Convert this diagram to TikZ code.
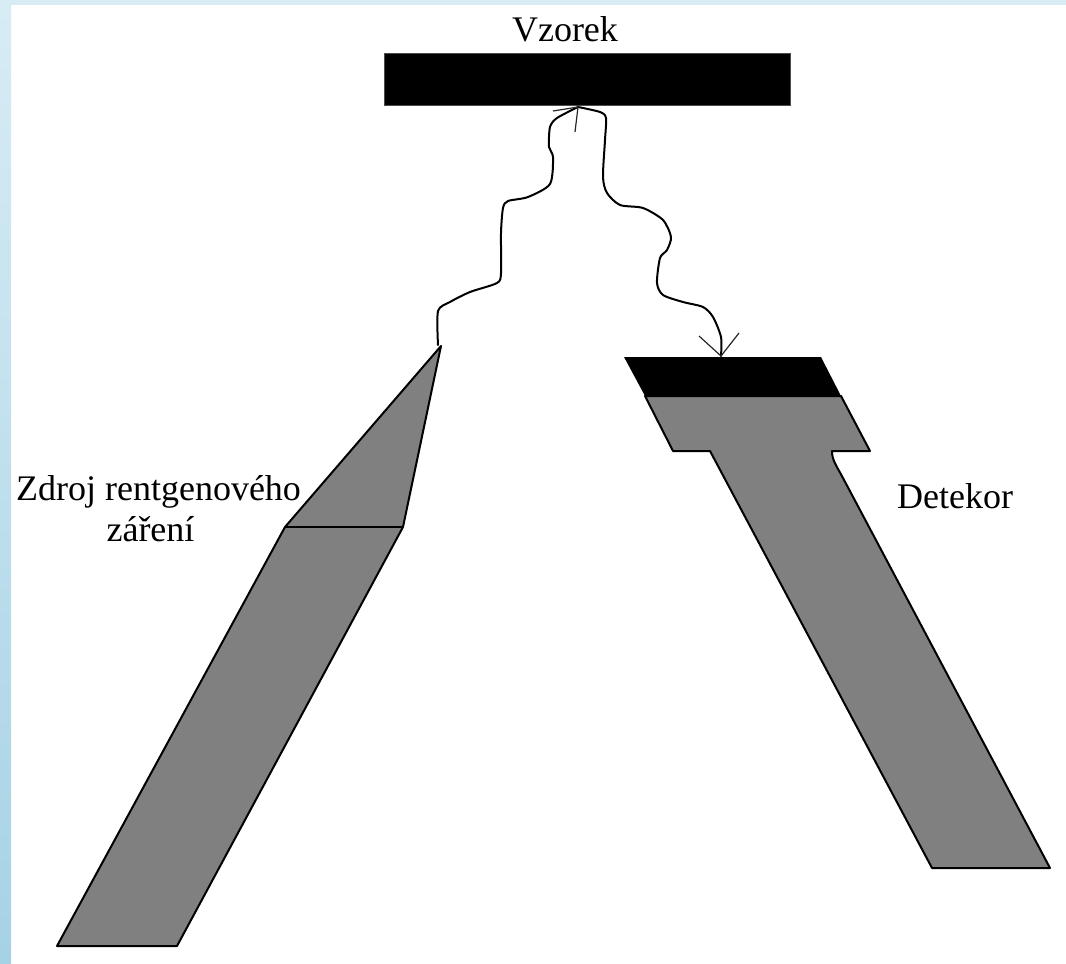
\documentclass[tikz,border=0pt]{standalone}
\usepackage{fontspec}
\setmainfont{Liberation Serif}
\definecolor{gr}{HTML}{808080}
\definecolor{stripT}{HTML}{D8ECF4}
\definecolor{stripB}{HTML}{A6D2E6}
\tikzset{
  shape line/.style={draw=black,line width=2pt,line join=round,fill=gr},
  ray/.style={draw=black,line width=2pt,line join=round,line cap=round},
  tip/.style={draw=black!85,line width=1.2pt},
  lab/.style={font=\fontsize{36}{41}\selectfont,align=center,inner sep=0pt,text=black,anchor=base}
}
\begin{document}
\begin{tikzpicture}[x=1pt,y=-1pt]
\useasboundingbox (0,0) rectangle (1066,964);
\fill[stripT] (0,0) rectangle (1066,5);
\shade[top color=stripT,bottom color=stripB] (0,0) rectangle (11,964);
% sample
\draw[fill=black,draw=black!70,line width=0.8pt] (384,53) rectangle (790,105);
% source
\draw[shape line] (441,346) -- (285,527) -- (57,946) -- (177,946) -- (403,527) -- cycle;
\draw[black,line width=1.8pt] (285,527) -- (403,527);
% detector
\draw[shape line] (645,396) -- (673,451) -- (710,451) -- (932,868) -- (1050,868) -- (843,478) .. controls (836,465) and (832,460) .. (832,451) -- (870,451) -- (841,396) -- cycle;
\fill[black] (624,357) -- (821,357) -- (841,396) -- (645,396) -- cycle;
% ray
\draw[ray] plot[smooth,tension=0.45] coordinates {(438,345) (438,311) (450,302) (470,292) (497,283) (501,273) (501,233) (503,208) (508,201) (528,197) (550,184) (553,157) (549,147) (550,127) (557,118) (578,107)};
\draw[ray] plot[smooth,tension=0.45] coordinates {(578,107) (600,112) (606,118) (605,140) (603,177) (607,193) (620,205) (643,208) (663,220) (671,237) (667,250) (660,258) (657,283) (663,295) (683,302) (703,307) (713,317) (721,337) (721,356)};
\coordinate (topTip) at (578,107);
\coordinate (botTip) at (721,356);
\coordinate (t1) at (553,111);
\coordinate (t2) at (575,132);
\coordinate (b1) at (699,336);
\coordinate (b2) at (739,333);
\draw[tip] (t1) -- (topTip) -- (t2);
\draw[tip] (b1) -- (botTip) -- (b2);
% labels
\node[lab] (vzorek) at (565,41.5) {Vzorek};
\node[lab] (zdroj) at (158.5,541) {Zdroj rentgenového\\záření\rule{16pt}{0pt}};
\node[lab] (detekor) at (955,508) {Detekor};
\end{tikzpicture}
\end{document}
